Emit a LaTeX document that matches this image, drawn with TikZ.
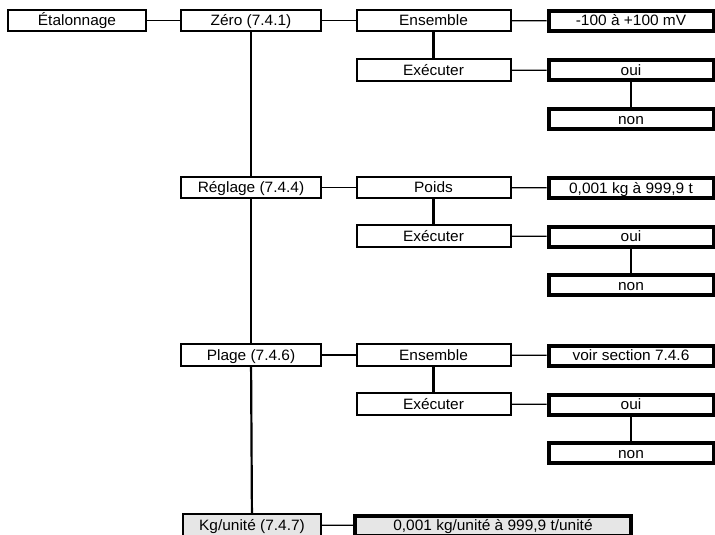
\documentclass[tikz,border=0pt]{standalone}
\usepackage{fontspec}
\setmainfont[FakeStretch=1.03]{Liberation Sans}
\begin{document}
\begin{tikzpicture}[x=1pt,y=-1pt,
  every node/.style={inner sep=0pt, font=\fontsize{15}{18}\selectfont, text height=10.7pt, text depth=0.7pt},
  box/.style={draw, line width=2pt, fill=white, minimum height=21.5pt},
  res/.style={draw, line width=4pt, fill=white, minimum height=20pt},
  hline/.style={line width=1.2pt},
  vline/.style={line width=2.2pt},
]
\useasboundingbox (0,0) rectangle (715,535);
\definecolor{lightgr}{HTML}{E6E6E6}

% column 1 & 2
\node[box, minimum width=138pt] (eta) at (77,20.5) {Étalonnage};
\node[box, minimum width=140pt] (zero) at (251,20.5) {Zéro (7.4.1)};
\node[box, minimum width=140pt] (regl) at (251,187.5) {Réglage (7.4.4)};
\node[box, minimum width=140pt] (plage) at (251,355) {Plage (7.4.6)};
\node[box, minimum width=138pt, fill=lightgr] (kg) at (252,525) {Kg/unité (7.4.7)};

% group 1
\node[box, minimum width=154pt] (ens1) at (433.5,20.5) {Ensemble};
\node[box, minimum width=154pt] (exe1) at (433.5,70) {Exécuter};
\node[res, minimum width=165pt] (r1) at (631,21) {-100 à +100 mV};
\node[res, minimum width=165pt] (oui1) at (631,70.5) {oui};
\node[res, minimum width=165pt] (non1) at (631,119) {non};

% group 2
\node[box, minimum width=154pt] (ens2) at (433.5,187.5) {Poids};
\node[box, minimum width=154pt] (exe2) at (433.5,236) {Exécuter};
\node[res, minimum width=165pt] (r2) at (631,188) {0,001 kg à 999,9 t};
\node[res, minimum width=165pt] (oui2) at (631,236.5) {oui};
\node[res, minimum width=165pt] (non2) at (631,285) {non};

% group 3
\node[box, minimum width=154pt] (ens3) at (433.5,355) {Ensemble};
\node[box, minimum width=154pt] (exe3) at (433.5,404) {Exécuter};
\node[res, minimum width=165pt] (r3) at (631,355.5) {voir section 7.4.6};
\node[res, minimum width=165pt] (oui3) at (631,404.5) {oui};
\node[res, minimum width=165pt] (non3) at (631,453) {non};

% kg result
\node[res, minimum width=276pt, fill=lightgr] (rkg) at (493,525.5) {0,001 kg/unité à 999,9 t/unité};

% connectors
\draw[hline] (eta) -- (zero);
\draw[vline] (zero) -- (regl);
\draw[vline] (regl) -- (plage);
\draw[vline] (plage) -- (kg);
\draw[hline] (zero) -- (ens1);
\draw[hline] (regl) -- (ens2);
\draw[hline] (plage) -- (ens3);
\draw[hline] (kg) -- (rkg);
\foreach \i in {1,2,3}{
  \draw[vline] (ens\i) -- (exe\i);
  \draw[hline] (ens\i) -- (r\i);
  \draw[hline] (exe\i) -- (oui\i);
  \draw[vline] (oui\i) -- (non\i);
}
\end{tikzpicture}
\end{document}
